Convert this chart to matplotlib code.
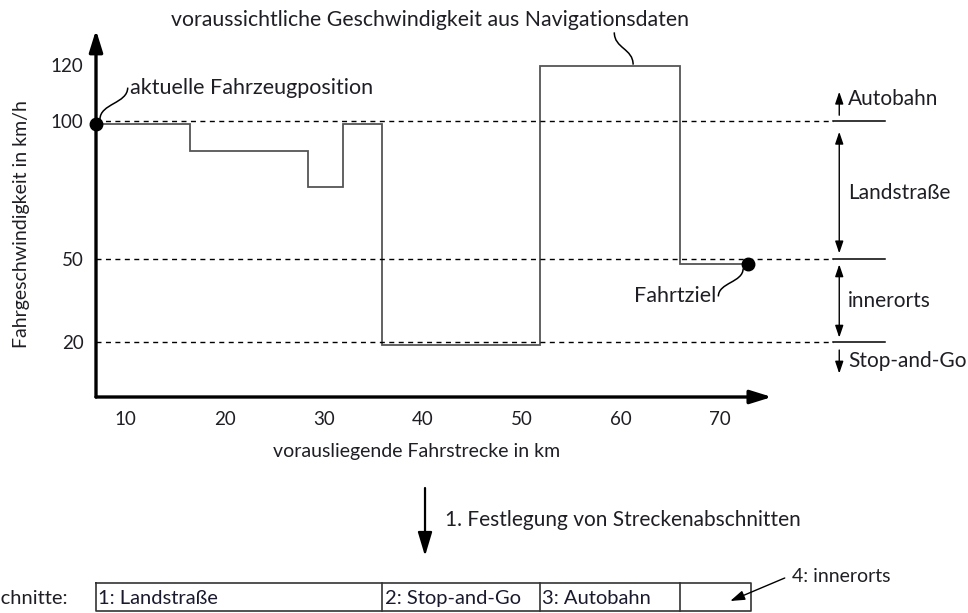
import matplotlib
matplotlib.use("Agg")
import matplotlib.pyplot as plt
import matplotlib.transforms as mtransforms
from matplotlib.path import Path
from matplotlib.patches import PathPatch

plt.rcParams["font.family"] = ["Lato", "DejaVu Sans"]
plt.rcParams["font.size"] = 14.5
plt.rcParams["text.color"] = "#1e1e24"

# Streckenprofil: Abschnittsgrenzen (km) und Geschwindigkeit je Abschnitt (km/h)
km_edges = [7, 16.5, 28.4, 31.9, 35.9, 51.8, 65.9, 72.8]
speeds = [99, 89, 76, 99, 19, 120, 48]

# Grenzen der Straßenklassen
class_limits = [100, 50, 20]
x_ticks = [10, 20, 30, 40, 50, 60, 70]
y_ticks = [20, 50, 100, 120]

# Abschnitte nach Festlegung (Index in km_edges)
sections = ["1: Landstraße", "2: Stop-and-Go", "3: Autobahn", ""]
section_bounds = [0, 4, 5, 6, 7]

W, H = 968, 613
fig = plt.figure(figsize=(W / 100, H / 100), dpi=100)

# Achsen: 9.91 px pro km, 2.7625 px pro km/h
ax = fig.add_axes([96 / W, 1 - 397 / H, 804 / W, 367 / H])
ax.set_xlim(7, 7 + 804 / 9.91)
ax.set_ylim(0, 367 / 2.7625)
for s in ax.spines.values():
    s.set_visible(False)
ax.set_xticks(x_ticks)
ax.set_yticks(y_ticks)
ax.tick_params(length=0, labelsize=13.5, labelcolor="#1e1e24")
ax.tick_params(axis="x", pad=10)
ax.tick_params(axis="y", pad=9)

x_end = 75.2
y_top = 367 / 2.7625
arrow = dict(arrowstyle="-|>,head_length=0.9,head_width=0.28", lw=2.4,
             color="black", shrinkA=0, shrinkB=0)
ax.annotate("", xy=(x_end, 0), xytext=(km_edges[0], 0), arrowprops=arrow,
            annotation_clip=False)
ax.annotate("", xy=(km_edges[0], y_top), xytext=(km_edges[0], 0),
            arrowprops=arrow, annotation_clip=False)

# gestrichelte Grenzlinien + kurze durchgezogene Stücke rechts
x_dash_end = 81.4
x_solid_end = 86.6
x_marker = 82.0
for v in class_limits:
    ax.plot([km_edges[0], x_dash_end], [v, v], color="black", lw=1.0,
            dashes=(3.6, 3.2), clip_on=False)
    ax.plot([x_dash_end, x_solid_end], [v, v], color="black", lw=1.1,
            clip_on=False)

# Geschwindigkeitsprofil
ax.stairs(speeds, km_edges, baseline=None, color="#555555", lw=1.3)
ax.plot([km_edges[0]], [speeds[0]], "o", color="black", ms=9, clip_on=False)
ax.plot([km_edges[-1]], [speeds[-1]], "o", color="black", ms=9, clip_on=False)

# Pfeile der Straßenklassen
small = dict(arrowstyle="-|>,head_length=0.5,head_width=0.17", lw=1.0,
             color="black", shrinkA=0, shrinkB=0)
both = dict(arrowstyle="<|-|>,head_length=0.5,head_width=0.17", lw=1.0,
            color="black", shrinkA=0, shrinkB=0)
ax.annotate("", xy=(x_marker, 110.5), xytext=(x_marker, 102),
            arrowprops=small, annotation_clip=False)
ax.annotate("", xy=(x_marker, 52), xytext=(x_marker, 96),
            arrowprops=both, annotation_clip=False)
ax.annotate("", xy=(x_marker, 21.5), xytext=(x_marker, 48),
            arrowprops=both, annotation_clip=False)
ax.annotate("", xy=(x_marker, 8.5), xytext=(x_marker, 17),
            arrowprops=small, annotation_clip=False)

x_lbl = 82.9
ax.text(x_lbl, 108, "Autobahn", va="center", ha="left", fontsize=15)
ax.text(x_lbl, 74, "Landstraße", va="center", ha="left", fontsize=15)
ax.text(x_lbl, 34.6, "innerorts", va="center", ha="left", fontsize=15)
ax.text(x_lbl, 13.2, "Stop-and-Go", va="center", ha="left", fontsize=15)


def s_curve(p0, p1, vertical=False):
    (x0, y0), (x1, y1) = p0, p1
    if vertical:
        ym = (y0 + y1) / 2
        verts = [(x0, y0), (x0, ym), (x1, ym), (x1, y1)]
    else:
        xm = (x0 + x1) / 2
        verts = [(x0, y0), (xm, y0), (xm, y1), (x1, y1)]
    path = Path(verts, [Path.MOVETO, Path.CURVE4, Path.CURVE4, Path.CURVE4])
    ax.add_patch(PathPatch(path, fill=False, lw=1.1, color="black",
                           clip_on=False))


# Beschriftungen mit geschwungenen Hinweislinien
ax.text(10.4, 112, "aktuelle Fahrzeugposition", va="center", ha="left",
        fontsize=15.5)
s_curve((7.4, 100.5), (10.2, 112), vertical=True)

fig.text(430 / W, 1 - 20 / H,
         "voraussichtliche Geschwindigkeit aus Navigationsdaten",
         ha="center", va="center", fontsize=15.3)
s_curve((59.3, 132.0), (61.2, 120.3), vertical=True)

ax.text(69.6, 36.4, "Fahrtziel", va="center", ha="right", fontsize=15.5)
s_curve((69.8, 36.4), (72.3, 46.5), vertical=True)

fig.text(22 / W, 1 - 224 / H, "Fahrgeschwindigkeit in km/h", rotation=90,
         ha="center", va="center", fontsize=14)
fig.text(417 / W, 1 - 452 / H, "vorausliegende Fahrstrecke in km",
         ha="center", va="center", fontsize=14)

# unterer Teil: Festlegung der Streckenabschnitte
bt = mtransforms.blended_transform_factory(ax.transData, fig.transFigure)
ax.annotate("", xy=(40.2, 1 - 556 / H), xytext=(40.2, 1 - 488 / H),
            xycoords=bt, textcoords=bt,
            arrowprops=dict(arrowstyle="-|>,head_length=1.0,head_width=0.3",
                            lw=1.6, color="black", shrinkA=0, shrinkB=0))
ax.text(42.2, 1 - 520 / H, "1. Festlegung von Streckenabschnitten",
        transform=bt, va="center", ha="left", fontsize=15)

box_top = 1 - 583 / H
box_bot = 1 - 611 / H
x_left = km_edges[section_bounds[0]]
x_right = km_edges[section_bounds[-1]] + 0.3
ax.plot([x_left, x_right, x_right, x_left, x_left],
        [box_top, box_top, box_bot, box_bot, box_top],
        color="#333333", lw=1.2, transform=bt, clip_on=False)
for i, name in enumerate(sections):
    xa = km_edges[section_bounds[i]]
    if i > 0:
        ax.plot([xa, xa], [box_top, box_bot], color="#333333", lw=1.2,
                transform=bt, clip_on=False)
    ax.text(xa + 0.25, (box_top + box_bot) / 2 - 0.003, name, transform=bt,
            va="center", ha="left", color="#1a1a2e")

fig.text(68 / W, 1 - 598 / H, "Streckenabschnitte:", ha="right", va="center")

ax.text(77.2, 1 - 577 / H, "4: innerorts", transform=bt, va="center",
        ha="left", fontsize=14)
ax.annotate("", xy=(71.0, 1 - 601 / H), xytext=(76.5, 1 - 578 / H),
            xycoords=bt, textcoords=bt,
            arrowprops=dict(arrowstyle="-|>,head_length=0.6,head_width=0.2",
                            lw=1.0, color="black", shrinkA=0, shrinkB=0))

fig.savefig("out.png", dpi=100)
